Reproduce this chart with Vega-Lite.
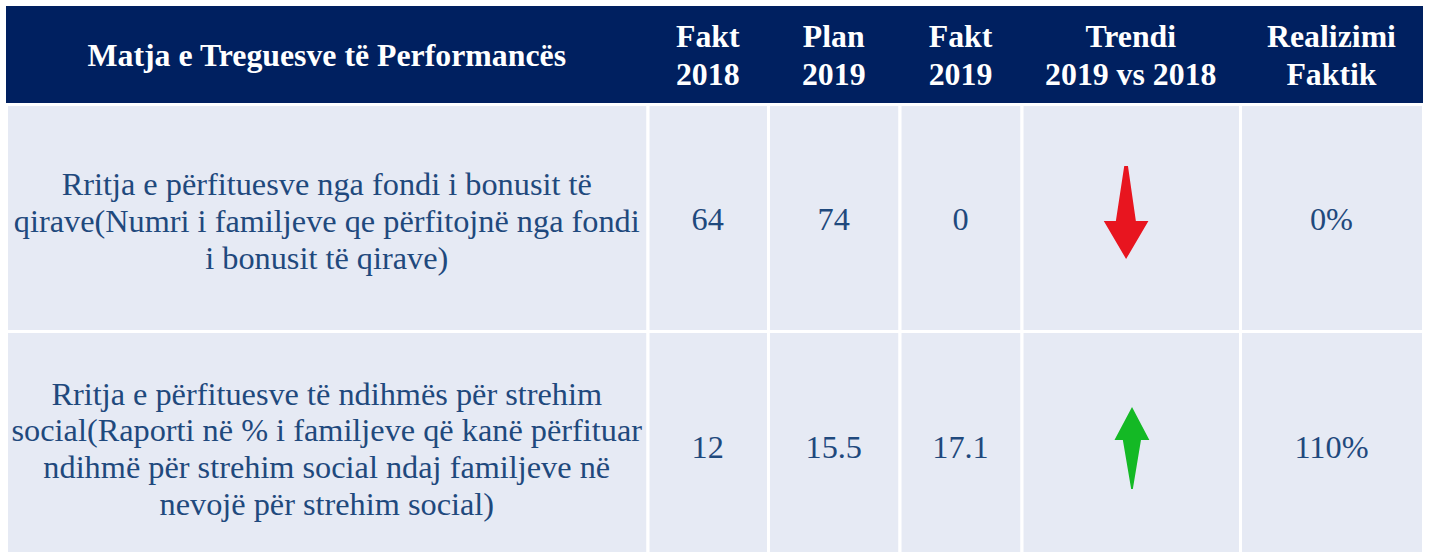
{
  "$schema": "https://vega.github.io/schema/vega-lite/v6.json",
  "width": 1429,
  "height": 552,
  "autosize": {"type": "none"},
  "padding": 0,
  "background": "#FFFFFF",
  "config": {
    "view": {"stroke": null},
    "axis": {"disable": true},
    "legend": {"disable": true}
  },
  "datasets": {
    "columns": [
      {"col": 0, "lines": 1, "title": "Matja e Treguesve të Performancës"},
      {"col": 1, "lines": 2, "title": "Fakt\n2018"},
      {"col": 2, "lines": 2, "title": "Plan\n2019"},
      {"col": 3, "lines": 2, "title": "Fakt\n2019"},
      {"col": 4, "lines": 2, "title": "Trendi\n2019 vs 2018"},
      {"col": 5, "lines": 2, "title": "Realizimi\nFaktik"}
    ],
    "indicators": [
      {"row": 1, "lines": 3, "indicator": "Rritja e përfituesve nga fondi i bonusit të\nqirave(Numri i familjeve qe përfitojnë nga fondi\ni bonusit të qirave)", "fakt2018": 64, "plan2019": 74, "fakt2019": 0, "trend": "down", "realizimi": 0},
      {"row": 2, "lines": 4, "indicator": "Rritja e përfituesve të ndihmës për strehim\nsocial(Raporti në % i familjeve që kanë përfituar\nndihmë për strehim social ndaj familjeve në\nnevojë për strehim social)", "fakt2018": 12, "plan2019": 15.5, "fakt2019": 17.1, "trend": "up", "realizimi": 1.1}
    ],
    "frame": [{"part": "table"}]
  },
  "layer": [
    {
      "data": {"name": "frame"},
      "mark": {"type": "rect", "fill": "#002060"},
      "encoding": {
        "x": {"datum": -0.5, "type": "quantitative",
              "scale": {"type": "linear", "zero": false, "nice": false,
                        "domain": [-0.5, 0, 0.5, 1, 1.5, 2, 2.5, 3, 3.5, 4, 4.5, 5, 5.5],
                        "range": [6, 326.75, 647.5, 707.75, 768, 833.75, 899.5, 960.5, 1021.5, 1130.75, 1240, 1331.5, 1423]}},
        "x2": {"datum": 5.5},
        "y": {"datum": -0.5, "type": "quantitative",
              "scale": {"type": "linear", "zero": false, "nice": false,
                        "domain": [-0.5, 0, 0.5, 1, 1.5, 2, 2.5],
                        "range": [6, 56, 104.5, 220, 331.5, 448, 566]}},
        "y2": {"datum": 0.5}
      }
    },
    {
      "data": {"name": "columns"},
      "mark": {"type": "rect", "fill": "#E6EAF4", "stroke": "#FFFFFF", "strokeWidth": 3},
      "encoding": {
        "x": {"field": "col", "type": "quantitative", "bin": {"step": 1, "extent": [-0.5, 5.5], "nice": false}},
        "y": {"datum": 0.5, "type": "quantitative"},
        "y2": {"datum": 2.5}
      }
    },
    {
      "data": {"name": "frame"},
      "mark": {"type": "rule", "stroke": "#FFFFFF", "strokeWidth": 3},
      "encoding": {
        "x": {"datum": -0.5, "type": "quantitative"},
        "x2": {"datum": 5.5},
        "y": {"datum": 1.5, "type": "quantitative"}
      }
    },
    {
      "data": {"name": "columns"},
      "transform": [{"filter": "datum.lines == 1"}],
      "mark": {"type": "text", "font": "Liberation Serif", "fontWeight": "bold", "fontSize": 31.8, "lineHeight": 38, "lineBreak": "\n", "align": "center", "baseline": "middle", "fill": "#FFFFFF"},
      "encoding": {
        "x": {"field": "col", "type": "quantitative"},
        "y": {"datum": 0, "type": "quantitative"},
        "text": {"field": "title", "type": "nominal"}
      }
    },
    {
      "data": {"name": "columns"},
      "transform": [{"filter": "datum.lines == 2"}],
      "mark": {"type": "text", "font": "Liberation Serif", "fontWeight": "bold", "fontSize": 31.8, "lineHeight": 38, "lineBreak": "\n", "align": "center", "baseline": "middle", "fill": "#FFFFFF", "dy": -19},
      "encoding": {
        "x": {"field": "col", "type": "quantitative"},
        "y": {"datum": 0, "type": "quantitative"},
        "text": {"field": "title", "type": "nominal"}
      }
    },
    {
      "data": {"name": "indicators"},
      "transform": [{"filter": "datum.lines == 3"}],
      "mark": {"type": "text", "font": "Liberation Serif", "fontSize": 32.3, "lineHeight": 37, "lineBreak": "\n", "align": "center", "baseline": "middle", "fill": "#1F497D", "dy": -35.5},
      "encoding": {
        "x": {"datum": 0, "type": "quantitative"},
        "y": {"field": "row", "type": "quantitative"},
        "text": {"field": "indicator", "type": "nominal"}
      }
    },
    {
      "data": {"name": "indicators"},
      "transform": [{"filter": "datum.lines == 4"}],
      "mark": {"type": "text", "font": "Liberation Serif", "fontSize": 32.3, "lineHeight": 36.7, "lineBreak": "\n", "align": "center", "baseline": "middle", "fill": "#1F497D", "dy": -53.5},
      "encoding": {
        "x": {"datum": 0, "type": "quantitative"},
        "y": {"field": "row", "type": "quantitative"},
        "text": {"field": "indicator", "type": "nominal"}
      }
    },
    {
      "data": {"name": "indicators"},
      "mark": {"type": "text", "font": "Liberation Serif", "fontSize": 32.3, "align": "center", "baseline": "middle", "fill": "#1F497D"},
      "encoding": {
        "x": {"datum": 1, "type": "quantitative"},
        "y": {"field": "row", "type": "quantitative"},
        "text": {"field": "fakt2018", "type": "quantitative", "format": "~g"}
      }
    },
    {
      "data": {"name": "indicators"},
      "mark": {"type": "text", "font": "Liberation Serif", "fontSize": 32.3, "align": "center", "baseline": "middle", "fill": "#1F497D"},
      "encoding": {
        "x": {"datum": 2, "type": "quantitative"},
        "y": {"field": "row", "type": "quantitative"},
        "text": {"field": "plan2019", "type": "quantitative", "format": "~g"}
      }
    },
    {
      "data": {"name": "indicators"},
      "mark": {"type": "text", "font": "Liberation Serif", "fontSize": 32.3, "align": "center", "baseline": "middle", "fill": "#1F497D"},
      "encoding": {
        "x": {"datum": 3, "type": "quantitative"},
        "y": {"field": "row", "type": "quantitative"},
        "text": {"field": "fakt2019", "type": "quantitative", "format": "~g"}
      }
    },
    {
      "data": {"name": "indicators"},
      "mark": {"type": "point", "filled": true, "opacity": 1, "strokeWidth": 0},
      "encoding": {
        "x": {"datum": 4, "type": "quantitative"},
        "y": {"field": "row", "type": "quantitative"},
        "shape": {"field": "trend", "type": "nominal", "legend": null,
                  "scale": {"domain": ["down", "up"],
                            "range": ["M-0.14,-1.16L-0.06,-1.16L0.11,0.02L0.38,0.02L-0.10,0.84L-0.58,0.02L-0.32,0.02Z",
                                      "M0.027,-0.88L0.40,-0.17L0.22,-0.17L0.045,0.88L0.009,0.88L-0.17,-0.17L-0.35,-0.17Z"]}},
        "color": {"field": "trend", "type": "nominal", "legend": null,
                  "scale": {"domain": ["down", "up"], "range": ["#E8151F", "#14B925"]}},
        "size": {"value": 8649}
      }
    },
    {
      "data": {"name": "indicators"},
      "mark": {"type": "text", "font": "Liberation Serif", "fontSize": 32.3, "align": "center", "baseline": "middle", "fill": "#1F497D"},
      "encoding": {
        "x": {"datum": 5, "type": "quantitative"},
        "y": {"field": "row", "type": "quantitative"},
        "text": {"field": "realizimi", "type": "quantitative", "format": ".0%"}
      }
    }
  ]
}
